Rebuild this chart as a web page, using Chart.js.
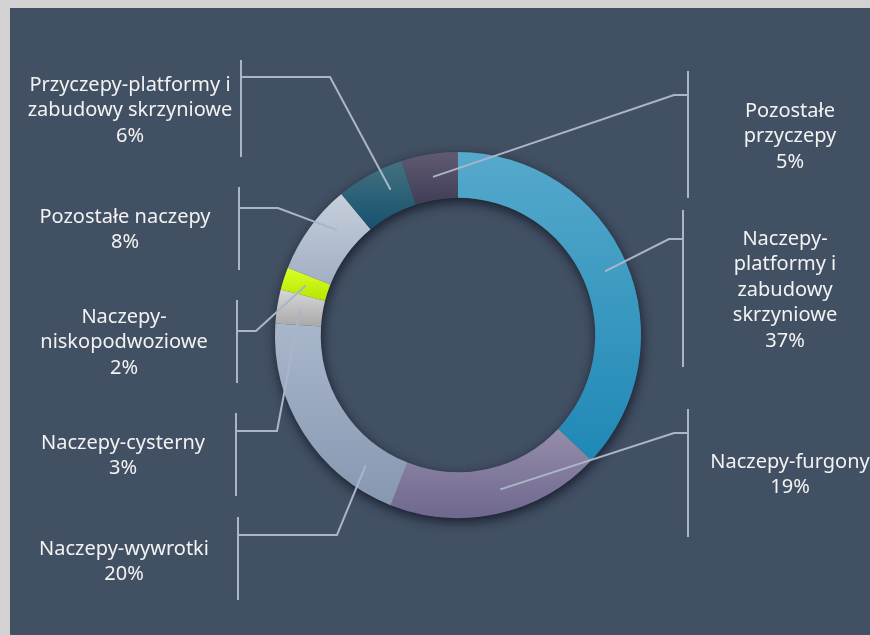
<html>
<head>
<script src="https://cdn.jsdelivr.net/npm/chart.js"></script>
<style>
  html, body { margin: 0; background: #425064; overflow: hidden; }
  #wrap { position: absolute; left: 0; top: 0; width: 870px; height: 635px; }
  #frame_top { position: fixed; left: 0; top: 0; width: 100%; height: 8px; background: #d2d2d2; }
  #frame_left { position: fixed; left: 0; top: 0; width: 10px; height: 100%; background: #d2d2d2; }
</style>
</head>
<body>
<div id="wrap"><canvas id="naczepy_chart"></canvas></div>
<div id="frame_top"></div>
<div id="frame_left"></div>
<script>
// Data (clockwise from 12 o'clock)
const categories = [
  "Naczepy-platformy i zabudowy skrzyniowe",
  "Naczepy-furgony",
  "Naczepy-wywrotki",
  "Naczepy-cysterny",
  "Naczepy-niskopodwoziowe",
  "Pozostałe naczepy",
  "Przyczepy-platformy i zabudowy skrzyniowe",
  "Pozostałe przyczepy"
];
const shares = [37, 19, 20, 3, 2, 8, 6, 5];
// how each label text is wrapped
const labelLines = [
  ["Naczepy-", "platformy i", "zabudowy", "skrzyniowe"],
  ["Naczepy-furgony"],
  ["Naczepy-wywrotki"],
  ["Naczepy-cysterny"],
  ["Naczepy-", "niskopodwoziowe"],
  ["Pozostałe naczepy"],
  ["Przyczepy-platformy i", "zabudowy skrzyniowe"],
  ["Pozostałe", "przyczepy"]
];

// Colours: top and bottom of each segment gradient
const topColors = ["#55a9cc", "#968daa", "#a9b7cc", "#d6d6d6", "#dcff2a", "#c6cfdb", "#44717f", "#605b72"];
const bottomColors = ["#1f88b5", "#6f688e", "#8697b0", "#a9a9a9", "#b5e600", "#a2afc3", "#16526e", "#423d57"];

// Label placement: text centre x, first line y, bracket line, elbow, where the leader meets the segment
const labelLayout = [
  { cx: 785, y0: 239, barX: 683, barTop: 210, barBot: 367, tickY: 239, elbowX: 669, at: 0.5 },
  { cx: 790, y0: 462, barX: 688, barTop: 409, barBot: 537, tickY: 433, elbowX: 674, at: 0.46 },
  { cx: 124, y0: 549, barX: 238, barTop: 517, barBot: 600, tickY: 535, elbowX: 337, at: 0.19 },
  { cx: 123, y0: 443, barX: 236, barTop: 413, barBot: 496, tickY: 431, elbowX: 277, at: 0.5 },
  { cx: 124, y0: 317, barX: 237, barTop: 300, barBot: 383, tickY: 331, elbowX: 256, at: 0.5 },
  { cx: 125, y0: 217, barX: 239, barTop: 187, barBot: 270, tickY: 208, elbowX: 278, at: 0.67 },
  { cx: 130, y0: 85, barX: 241, barTop: 60, barBot: 157, tickY: 77, elbowX: 330, at: 0.68 },
  { cx: 790, y0: 111, barX: 688, barTop: 71, barBot: 198, tickY: 95, elbowX: 674, at: 0.5 }
];
const lineHeight = 25.5;

// Shadow under the ring + vertical gradient per segment
const ringPlugin = {
  id: "ring",
  beforeDatasetsDraw(chart) {
    const c = chart.ctx;
    const arcs = chart.getDatasetMeta(0).data;
    const a0 = arcs[0];
    c.save();
    c.shadowColor = "rgba(12,18,30,0.8)";
    c.shadowBlur = 12;
    c.shadowOffsetX = 1;
    c.shadowOffsetY = 4;
    c.fillStyle = "#425064";
    c.beginPath();
    c.arc(a0.x, a0.y, a0.outerRadius, 0, Math.PI * 2);
    c.arc(a0.x, a0.y, a0.innerRadius, 0, Math.PI * 2, true);
    c.fill();
    c.restore();

    arcs.forEach((arc, i) => {
      let top = Infinity, bot = -Infinity;
      for (let k = 0; k <= 30; k++) {
        const t = arc.startAngle + ((arc.endAngle - arc.startAngle) * k) / 30;
        [arc.innerRadius, arc.outerRadius].forEach((r) => {
          const y = arc.y + r * Math.sin(t);
          top = Math.min(top, y);
          bot = Math.max(bot, y);
        });
      }
      const g = c.createLinearGradient(0, top, 0, bot);
      g.addColorStop(0, topColors[i]);
      g.addColorStop(1, bottomColors[i]);
      arc.options = Object.assign({}, arc.options, { backgroundColor: g });
    });
  }
};

// Leader lines and labels
const labelPlugin = {
  id: "labels",
  afterDatasetsDraw(chart) {
    const c = chart.ctx;
    const arcs = chart.getDatasetMeta(0).data;
    c.save();
    c.strokeStyle = "#a9b5c9";
    c.lineWidth = 2;
    c.fillStyle = "#f2f2f2";
    c.font = "20px 'Noto Sans'";
    c.textAlign = "center";
    c.textBaseline = "middle";
    arcs.forEach((arc, i) => {
      const L = labelLayout[i];
      const ang = arc.startAngle + (arc.endAngle - arc.startAngle) * L.at;
      const r = (arc.innerRadius + arc.outerRadius) / 2;
      const px = arc.x + r * Math.cos(ang);
      const py = arc.y + r * Math.sin(ang);
      c.beginPath();
      c.moveTo(L.barX, L.barTop);
      c.lineTo(L.barX, L.barBot);
      c.moveTo(L.barX, L.tickY);
      c.lineTo(L.elbowX, L.tickY);
      c.lineTo(px, py);
      c.stroke();
      const lines = labelLines[i].concat([shares[i] + "%"]);
      lines.forEach((t, k) => {
        c.fillText(t, L.cx, L.y0 + k * lineHeight);
      });
    });
    c.restore();
  }
};

new Chart("naczepy_chart", {
  type: "doughnut",
  data: {
    labels: categories,
    datasets: [
      {
        data: shares,
        backgroundColor: bottomColors,
        borderWidth: 0
      }
    ]
  },
  plugins: [ringPlugin, labelPlugin],
  options: {
    responsive: true,
    maintainAspectRatio: false,
    animation: false,
    cutout: "75%",
    layout: { padding: { left: 275, right: 229, top: 152, bottom: 117 } },
    plugins: {
      legend: { display: false },
      tooltip: { enabled: false }
    }
  }
});
</script>
</body>
</html>
